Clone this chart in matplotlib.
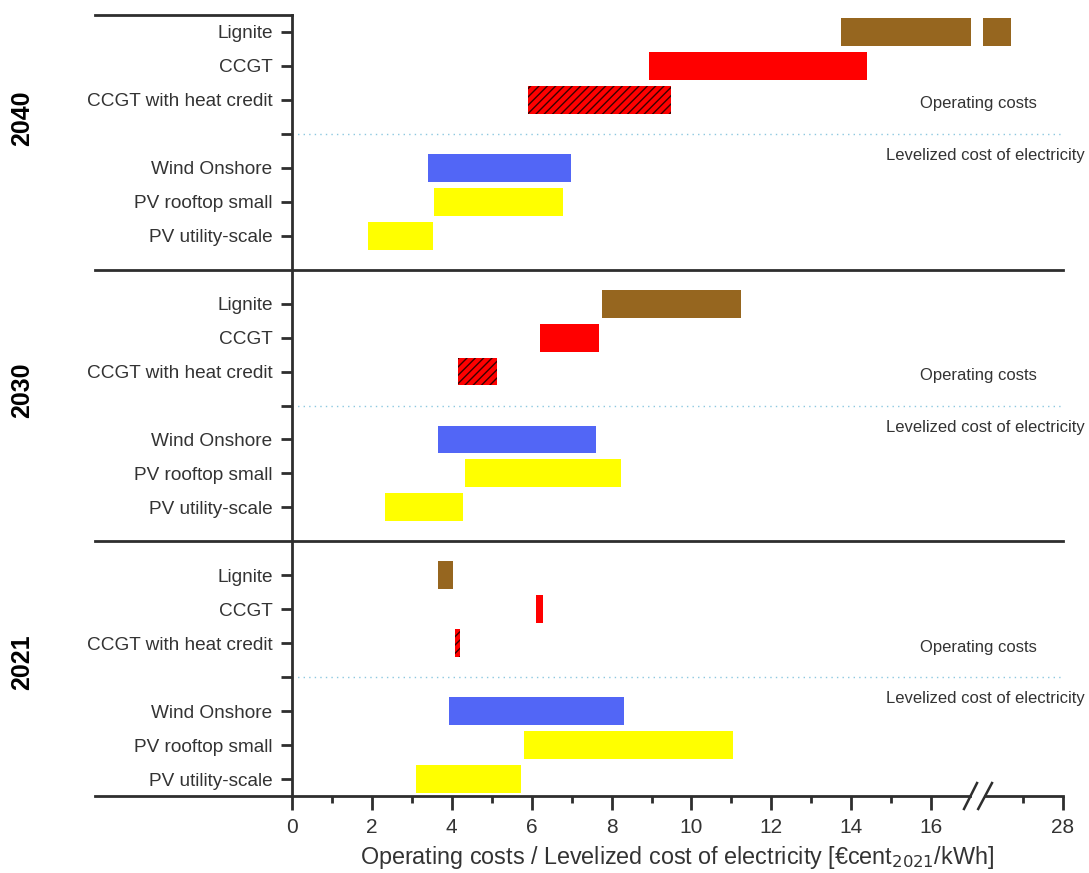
import numpy as np
import matplotlib
matplotlib.use("Agg")
import matplotlib.pyplot as plt
from matplotlib.transforms import blended_transform_factory

plt.rcParams['font.family'] = ['Liberation Sans', 'DejaVu Sans']
plt.rcParams['hatch.linewidth'] = 1.0
plt.rcParams['hatch.color'] = '#3a0000'

# ---------------- data ----------------
techs = ["Lignite", "CCGT", "CCGT with heat credit",
         "Wind Onshore", "PV rooftop small", "PV utility-scale"]
years = ["2040", "2030", "2021"]

low_2040 = [13.75, 8.93, 5.90, 3.40, 3.55, 1.90]
high_2040 = [26.70, 14.40, 9.48, 6.98, 6.78, 3.53]
low_2030 = [7.75, 6.20, 4.15, 3.65, 4.33, 2.33]
high_2030 = [11.23, 7.68, 5.13, 7.60, 8.23, 4.28]
low_2021 = [3.65, 6.12, 4.08, 3.93, 5.80, 3.10]
high_2021 = [4.03, 6.28, 4.20, 8.30, 11.03, 5.73]

lows = [low_2040, low_2030, low_2021]
highs = [high_2040, high_2030, high_2021]

major_ticks = [0, 2, 4, 6, 8, 10, 12, 14, 16, 28]
minor_ticks = [1, 3, 5, 7, 9, 11, 13, 15, 27]

# ---------------- styles ----------------
colors = ["#96661f", "#ff0000", "#ff0000", "#5266f6", "#ffff00", "#ffff00"]
hatches = [None, None, "////", None, None, None]
BRK_LO, BRK_HI = 17.0, 26.0
COMP = 0.3
DARK = "#2e2e2e"
TXT = "#333333"


def fwd(x):
    x = np.asarray(x, dtype=float)
    return np.where(x <= BRK_LO, x,
                    np.where(x >= BRK_HI, x - (BRK_HI - BRK_LO) + COMP,
                             BRK_LO + (x - BRK_LO) * COMP / (BRK_HI - BRK_LO)))


def inv(d):
    d = np.asarray(d, dtype=float)
    return np.where(d <= BRK_LO, d,
                    np.where(d >= BRK_LO + COMP, d + (BRK_HI - BRK_LO) - COMP,
                             BRK_LO + (d - BRK_LO) * (BRK_HI - BRK_LO) / COMP))


fig = plt.figure(figsize=(10.89, 8.73), dpi=100)
W, H = 1089, 873
ax = fig.add_axes([292 / W, 1 - 796 / H, 771 / W, 781 / H])
ax.set_xscale('function', functions=(fwd, inv))
ax.set_xlim(0, 28)
ax.set_ylim(22.5, -0.5)

bt = blended_transform_factory(ax.transAxes, ax.transData)

row_off = [0, 1, 2, 4, 5, 6]
ytick_pos, ytick_lab = [], []
bar_h = 0.82
for b, yr in enumerate(years):
    base = 8 * b
    for i, t in enumerate(techs):
        y = base + row_off[i]
        lo, hi = lows[b][i], highs[b][i]
        if hi > BRK_HI and lo < BRK_LO:
            segs = [(lo, BRK_LO), (BRK_HI, hi)]
        else:
            segs = [(lo, hi)]
        for s0, s1 in segs:
            ax.barh(y, s1 - s0, left=s0, height=bar_h, color=colors[i],
                    hatch=hatches[i], linewidth=0, zorder=3)
        ytick_pos.append(y)
        ytick_lab.append(t)
    # dotted separator
    ytick_pos.append(base + 3)
    ytick_lab.append("")
    ax.axhline(base + 3, color="#8cc8e0", linestyle=(0, (1, 3)), linewidth=1.0, zorder=1)
    ax.text(0.89, base + 2.12, "Operating costs", transform=bt,
            ha='center', va='center', fontsize=12, color=TXT, clip_on=False)
    ax.text(0.899, base + 3.64, "Levelized cost of electricity", transform=bt,
            ha='center', va='center', fontsize=12, color=TXT, clip_on=False)
    ax.text(-0.350, base + 2.55, yr, transform=bt,
            rotation=90, ha='center', va='center', fontsize=18, fontweight='bold', color='black')

xl = (95 - 292) / 771
for yb in [7, 15]:
    ax.plot([xl, 1.0], [yb, yb], color=DARK, lw=2, transform=bt, clip_on=False, zorder=4)
ax.plot([xl, 0.0], [-0.5, -0.5], color=DARK, lw=2, transform=bt, clip_on=False, zorder=4)
# bottom axis line with break
ax.plot([xl, 0.8794], [22.5, 22.5], color=DARK, lw=2, transform=bt, clip_on=False, zorder=4)
ax.plot([0.8988, 1.0], [22.5, 22.5], color=DARK, lw=2, transform=bt, clip_on=False, zorder=4)
ax.plot([0.8716, 0.8885], [-0.0166, 0.0166], color=DARK, lw=1.8, transform=ax.transAxes, clip_on=False, zorder=5)
ax.plot([0.8900, 0.9079], [-0.0166, 0.0166], color=DARK, lw=1.8, transform=ax.transAxes, clip_on=False, zorder=5)

for s in ['top', 'right', 'bottom']:
    ax.spines[s].set_visible(False)
ax.spines['left'].set_color(DARK)
ax.spines['left'].set_linewidth(2)
ax.spines['left'].set_zorder(5)

ax.set_yticks(ytick_pos)
ax.set_yticklabels(ytick_lab, fontsize=13.7, color=TXT)
ax.tick_params(axis='y', length=8, width=2, color=DARK, pad=6)

ax.set_xticks(major_ticks)
ax.set_xticklabels([str(v) for v in major_ticks], fontsize=15, color=TXT)
ax.set_xticks(minor_ticks, minor=True)
ax.tick_params(axis='x', which='major', length=10, width=2, color=DARK, pad=6)
ax.tick_params(axis='x', which='minor', length=5, width=2, color=DARK)
ax.set_xlabel("Operating costs / Levelized cost of electricity [€cent$_{2021}$/kWh]",
              fontsize=16.8, color=TXT, labelpad=5)

fig.savefig("out.png", dpi=100, facecolor='white')
